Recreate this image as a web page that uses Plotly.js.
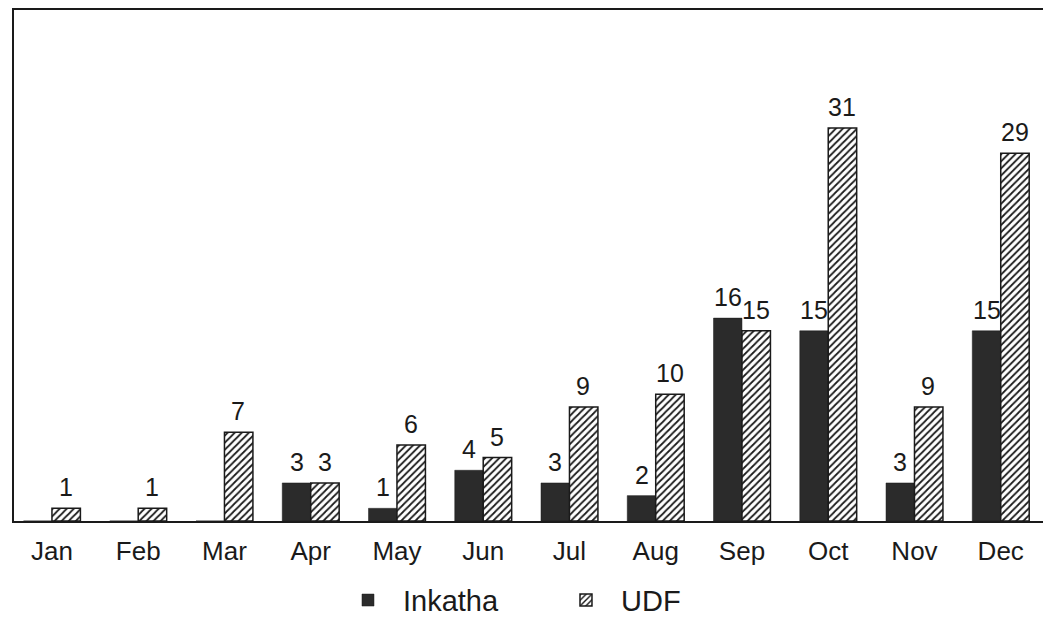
<!DOCTYPE html>
<html><head><meta charset="utf-8">
<script src="https://cdn.plot.ly/plotly-3.0.1.min.js"></script>
<style>html,body{margin:0;padding:0;background:#fff;}#chart{width:1043px;height:641px;}</style>
</head><body><div id="chart"></div>
<script>
const months = ["Jan","Feb","Mar","Apr","May","Jun","Jul","Aug","Sep","Oct","Nov","Dec"];
const inkatha = [0,0,0,3,1,4,3,2,16,15,3,15];
const udf = [1,1,7,3,6,5,9,10,15,31,9,29];
const seriesNames = ["Inkatha","UDF"];

const FONT = "'Liberation Sans', Arial, sans-serif";

const traces = [
  {type:'bar', name:seriesNames[0], x:months, y:inkatha,
   marker:{color:'#2b2b2b', line:{color:'#1a1a1a', width:0.5}}, hoverinfo:'x+y'},
  {type:'bar', name:seriesNames[1], x:months, y:udf,
   marker:{color:'#ffffff', line:{color:'#1a1a1a', width:1.5},
     pattern:{shape:'/', fgcolor:'#1a1a1a', bgcolor:'#ffffff', size:5, solidity:0.35}}, hoverinfo:'x+y'}
];

const annotations = [];
months.forEach((m,i)=>{
  if (inkatha[i] > 0) annotations.push({x:m, y:inkatha[i], xref:'x', yref:'y', text:String(inkatha[i]),
    showarrow:false, xshift:-14, yanchor:'bottom', yshift:5, font:{family:FONT, size:25, color:'#1a1a1a'}});
  if (udf[i] > 0) annotations.push({x:m, y:udf[i], xref:'x', yref:'y', text:String(udf[i]),
    showarrow:false, xshift:14, yanchor:'bottom', yshift:5, font:{family:FONT, size:25, color:'#1a1a1a'}});
});

const layout = {
  width:1043, height:641,
  margin:{l:14, r:0, t:10, b:120},
  paper_bgcolor:'#ffffff', plot_bgcolor:'#ffffff',
  barmode:'group', bargap:0.34, bargroupgap:0,
  font:{family:FONT, color:'#1a1a1a'},
  xaxis:{type:'category', range:[-0.44, 11.49], showline:true, mirror:true, linecolor:'#1a1a1a', linewidth:2,
    ticks:'', showgrid:false, zeroline:false, tickfont:{family:FONT, size:26, color:'#1a1a1a'}, ticklabelstandoff:6},
  yaxis:{range:[0, 40.3], showline:true, linecolor:'#1a1a1a', linewidth:2, showticklabels:false,
    ticks:'', showgrid:false, zeroline:false},
  showlegend:true,
  legend:{orientation:'h', x:0.310, xanchor:'left', y:-0.155, yanchor:'middle',
    font:{family:FONT, size:29, color:'#1a1a1a'}, itemwidth:60, entrywidth:143, traceorder:'normal'},
  annotations: annotations
};

Plotly.newPlot('chart', traces, layout, {displayModeBar:false, staticPlot:true});
</script>
</body></html>
